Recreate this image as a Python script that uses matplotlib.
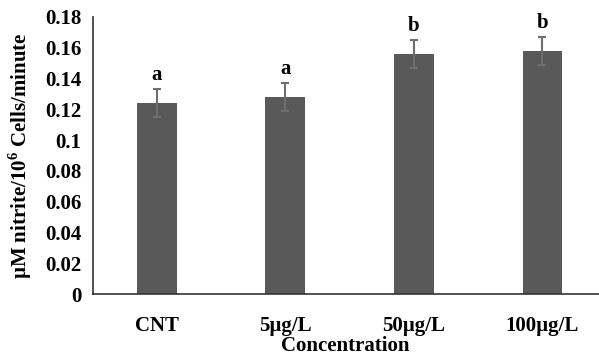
import matplotlib
matplotlib.use('Agg')
import matplotlib.pyplot as plt
import numpy as np

# Data
categories = ['CNT', '5µg/L', '50µg/L', '100µg/L']
means = [0.124, 0.128, 0.156, 0.158]
errors = [0.009, 0.009, 0.009, 0.009]
letters = ['a', 'a', 'b', 'b']

plt.rcParams['font.family'] = ['Liberation Serif', 'DejaVu Serif']
plt.rcParams['font.weight'] = 'bold'
plt.rcParams['mathtext.fontset'] = 'custom'
plt.rcParams['mathtext.rm'] = 'Liberation Serif:bold'
plt.rcParams['mathtext.bf'] = 'Liberation Serif:bold'

fig = plt.figure(figsize=(5.99, 3.57), dpi=100)
ax = fig.add_axes([92.5 / 599, 63 / 357, (599 - 92.5) / 599, 277 / 357])

x = np.arange(len(categories))
bars = ax.bar(x, means, width=0.31, color='#595959',
              yerr=errors, capsize=3, ecolor='#6e6e6e',
              error_kw={'elinewidth': 1.5, 'capthick': 1.5})

for xi, m, e, lab in zip(x, means, errors, letters):
    ax.annotate(lab, xy=(xi, m + e), xytext=(0, 3), textcoords='offset points',
                ha='center', va='bottom', fontsize=15, fontweight='bold')

ax.set_xlim(-0.5, 3.44)
ax.set_ylim(0, 0.18)
ax.set_yticks(np.arange(0, 0.181, 0.02))
ax.set_yticklabels(['0', '0.02', '0.04', '0.06', '0.08', '0.1', '0.12',
                    '0.14', '0.16', '0.18'])
ax.set_xticks(x)
ax.set_xticklabels(categories)
ax.tick_params(axis='both', length=0, labelsize=15, pad=8)
ax.tick_params(axis='x', pad=16)

for s in ['top', 'right']:
    ax.spines[s].set_visible(False)
for s in ['left', 'bottom']:
    ax.spines[s].set_linewidth(1.2)
    ax.spines[s].set_color('#333333')

ax.set_xlabel('Concentration', fontsize=15, fontweight='bold')
ax.xaxis.set_label_coords(0.5, -0.152)
ax.set_ylabel('µM nitrite/10$^{6}$ Cells/minute', fontsize=15,
              fontweight='bold', labelpad=8)

plt.savefig('out.png', dpi=100)
